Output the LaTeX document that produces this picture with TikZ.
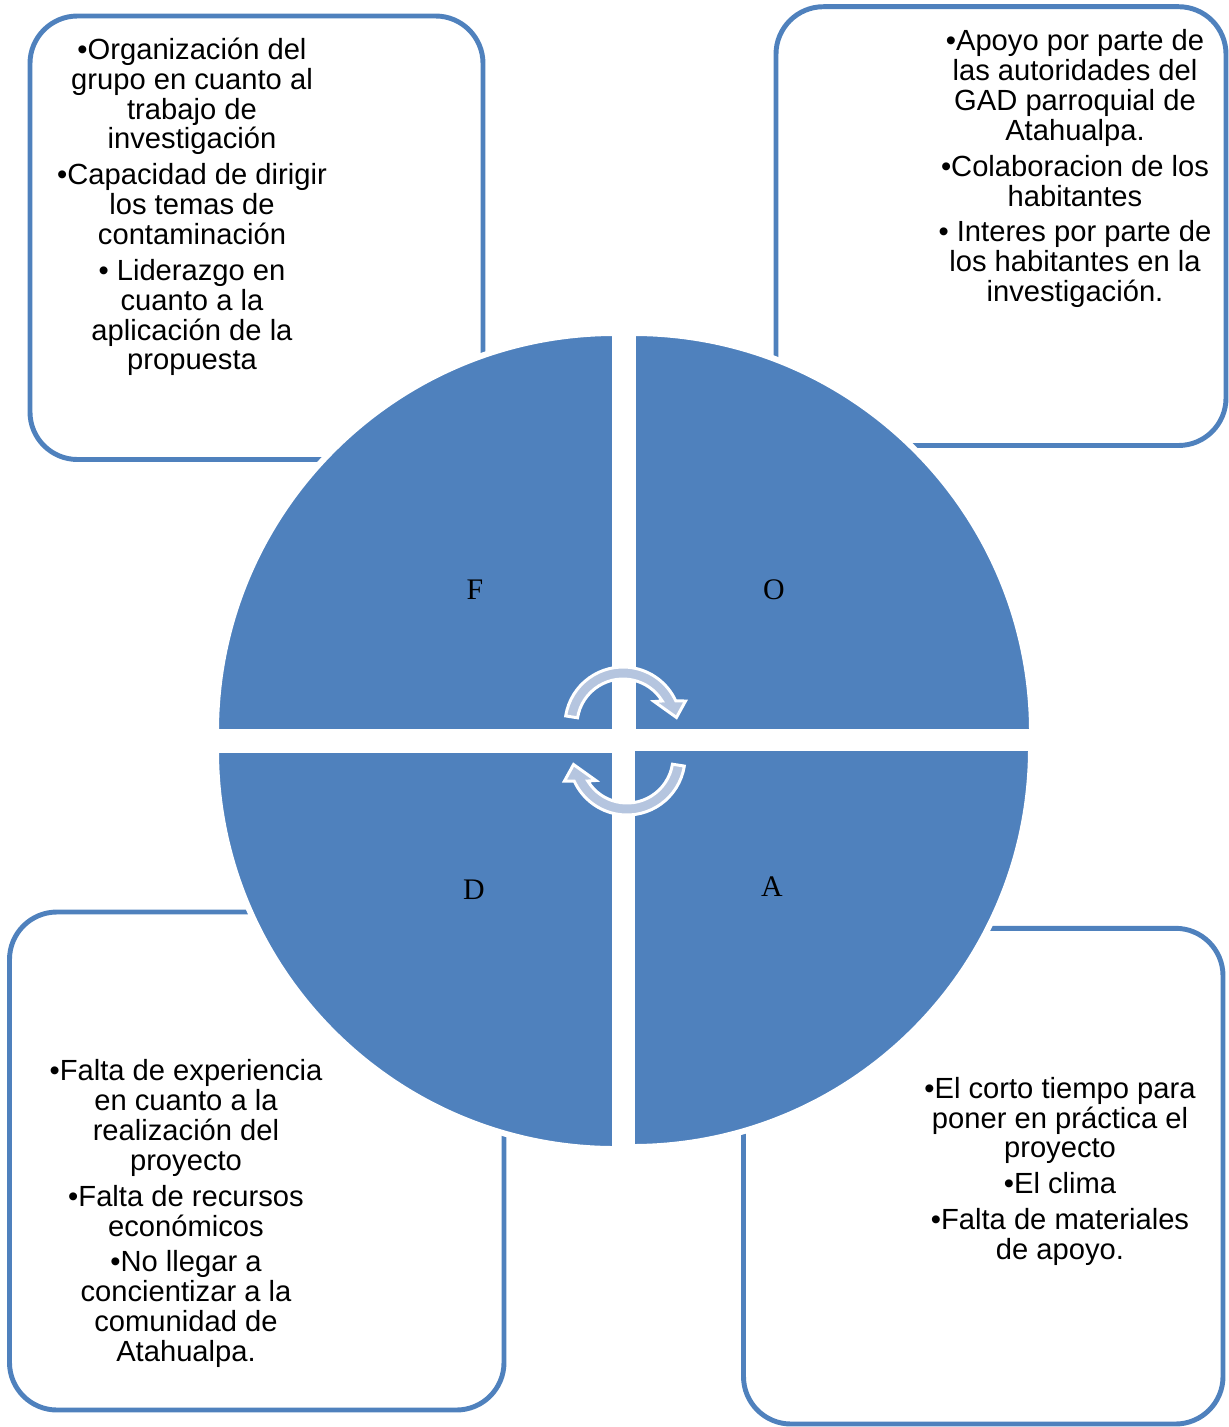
\documentclass[tikz,border=0pt]{standalone}
\usepackage{fontspec}
\setmainfont{Liberation Serif}
\setsansfont{Liberation Sans}
\usepackage{tikz}
\definecolor{quadblue}{RGB}{79,129,189}
\definecolor{frameblue}{RGB}{79,129,189}
\definecolor{cycfill}{RGB}{181,197,223}
\tikzset{
  panel/.style={draw=frameblue, fill=white, line width=2.8pt, rounded corners=27pt},
  ptext/.style={anchor=north, align=center, inner sep=0pt, text=black,
    font=\sffamily\fontsize{16.6}{17}\selectfont},
  quad/.style={fill=quadblue, draw=white, line width=3.4pt},
  letter/.style={font=\rmfamily\fontsize{17}{20}\selectfont, text=black, inner sep=0pt},
  cyc/.style={fill=cycfill, draw=white, line width=1.7pt},
  cycarrow/.pic={
    \draw[cyc, yscale=-1] (171:58) arc[start angle=171, end angle=24.5, radius=58]
      -- (21:67) -- (8:54) -- (37:39) -- (31.5:46)
      arc[start angle=31.5, end angle=171, radius=46] -- cycle;
  },
}

\begin{document}
\begin{tikzpicture}[x=0.02cm, y=-0.02cm]
  \useasboundingbox (0,0) rectangle (1228,1427);
  % text panels
  \draw[panel] (30,16) rectangle (483,459.5);
  \draw[panel] (776,6.7) rectangle (1226,445.5);
  \draw[panel] (9.5,912) rectangle (504,1410);
  \draw[panel] (743.5,928.3) rectangle (1223,1424);
  \node[ptext] (fortxt) at (192,37.5) {•Organización del\\grupo en cuanto al\\trabajo de\\investigación\\[3.4pt]
    •Capacidad de dirigir\\los temas de\\contaminación\\[3.4pt]
    • Liderazgo en\\cuanto a la\\aplicación de la\\propuesta};
  \node[ptext] (opotxt) at (1075,29.3) {•Apoyo por parte de\\las autoridades del\\GAD parroquial de\\Atahualpa.\\[3.4pt]
    •Colaboracion de los\\habitantes\\[3.4pt]
    • Interes por parte de\\los habitantes en la\\investigación.};
  \node[ptext] (debtxt) at (186,1059.3) {•Falta de experiencia\\en cuanto a la\\realización del\\proyecto\\[3.4pt]
    •Falta de recursos\\económicos\\[3.4pt]
    •No llegar a\\concientizar a la\\comunidad de\\Atahualpa.};
  \node[ptext] (ametxt) at (1060,1076.7) {•El corto tiempo para\\poner en práctica el\\proyecto\\[3.4pt]
    •El clima\\[3.4pt]
    •Falta de materiales\\de apoyo.};
  % quadrants
  \coordinate (cF) at (615,732);
  \coordinate (cO) at (633,732);
  \coordinate (cD) at (615,750);
  \coordinate (cA) at (632,748);
  \draw[quad] (cF) -- ++(180:399) arc[start angle=180, end angle=270, radius=399] -- cycle;
  \draw[quad] (cO) -- ++(270:399) arc[start angle=270, end angle=360, radius=399] -- cycle;
  \draw[quad] (cD) -- ++(90:399) arc[start angle=90, end angle=180, radius=399] -- cycle;
  \draw[quad] (cA) -- ++(0:399) arc[start angle=0, end angle=90, radius=399] -- cycle;
  % cycle arrows
  \pic at (623,725) {cycarrow};
  \pic[rotate=180] at (627,757) {cycarrow};
  \node[letter] (lblF) at (475,590) {F};
  \node[letter] (lblO) at (774,590) {O};
  \node[letter] (lblD) at (474,890) {D};
  \node[letter] (lblA) at (772,887) {A};
\end{tikzpicture}
\end{document}
